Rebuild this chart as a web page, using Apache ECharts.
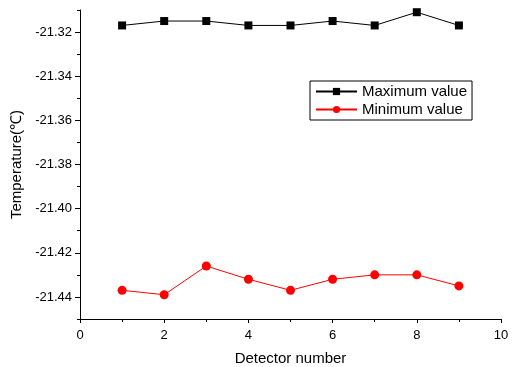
<!DOCTYPE html>
<html>
<head>
  <meta charset="utf-8">
  <title>Temperature by detector</title>
  <style>
    html, body { margin: 0; padding: 0; background: #fff; }
    #main { width: 512px; height: 367px; }
  </style>
</head>
<body>
<div id="main"></div>
<script src="https://cdn.jsdelivr.net/npm/echarts@6/dist/echarts.min.js"></script>
<script>
  // data
  var detectorNumbers = [1, 2, 3, 4, 5, 6, 7, 8, 9];
  var maxValues = [-21.317, -21.315, -21.315, -21.317, -21.317, -21.315, -21.317, -21.311, -21.317];
  var minValues = [-21.437, -21.439, -21.426, -21.432, -21.437, -21.432, -21.430, -21.430, -21.435];
  var yLabels = [-21.44, -21.42, -21.40, -21.38, -21.36, -21.34, -21.32];

  function pairs(xs, ys) {
    return xs.map(function (x, i) { return [x, ys[i]]; });
  }

  var font = 'Liberation Sans, Arial, sans-serif';
  var myChart = echarts.init(document.getElementById('main'));
  myChart.setOption({
    animation: false,
    grid: { left: 80, right: 11, top: 10, bottom: 48, containLabel: false, outerBoundsMode: 'none' },
    legend: {
      orient: 'vertical',
      left: 310,
      top: 81,
      padding: [3, 5, 3, 5],
      itemGap: 3,
      itemWidth: 41,
      itemHeight: 9,
      borderColor: '#000',
      borderWidth: 1,
      textStyle: { fontFamily: font, fontSize: 15, color: '#000' },
      data: ['Maximum value', 'Minimum value']
    },
    xAxis: {
      type: 'value',
      min: 0, max: 10, interval: 2,
      name: 'Detector number',
      nameLocation: 'middle',
      nameGap: 32,
      nameTextStyle: { fontFamily: font, fontSize: 15, color: '#000' },
      axisLine: { onZero: false, lineStyle: { color: '#000', width: 1 } },
      axisTick: { length: 4, lineStyle: { color: '#000' } },
      minorTick: { show: true, splitNumber: 2, length: 3, lineStyle: { color: '#000' } },
      splitLine: { show: false },
      axisLabel: { fontFamily: font, fontSize: 13, color: '#000', margin: 10 }
    },
    yAxis: [{
      type: 'value',
      min: -21.45, max: -21.31,
      name: 'Temperature(\u2103)',
      nameLocation: 'middle',
      nameGap: 50,
      nameTextStyle: { fontFamily: font, fontSize: 15, color: '#000' },
      axisLine: { onZero: false, lineStyle: { color: '#000', width: 1 } },
      axisTick: { length: 5, customValues: yLabels, lineStyle: { color: '#000' } },
      splitLine: { show: false },
      axisLabel: {
        customValues: yLabels,
        fontFamily: font, fontSize: 13, color: '#000', margin: 8,
        formatter: function (v) { return v.toFixed(2); }
      }
    }, {
      // minor ticks every 0.01, same scale, drawn on the left
      type: 'value',
      position: 'left',
      min: -21.45, max: -21.31, interval: 0.01,
      axisLine: { show: false },
      axisTick: { show: true, length: 3, lineStyle: { color: '#000' } },
      axisLabel: { show: false },
      splitLine: { show: false }
    }],
    series: [{
      name: 'Maximum value',
      type: 'line',
      data: pairs(detectorNumbers, maxValues),
      symbol: 'rect',
      symbolSize: 8,
      itemStyle: { color: '#000' },
      lineStyle: { color: '#000', width: 1 }
    }, {
      name: 'Minimum value',
      type: 'line',
      data: pairs(detectorNumbers, minValues),
      symbol: 'circle',
      symbolSize: 9,
      itemStyle: { color: '#ff0000' },
      lineStyle: { color: '#ff0000', width: 1 }
    }]
  });
</script>
</body>
</html>
